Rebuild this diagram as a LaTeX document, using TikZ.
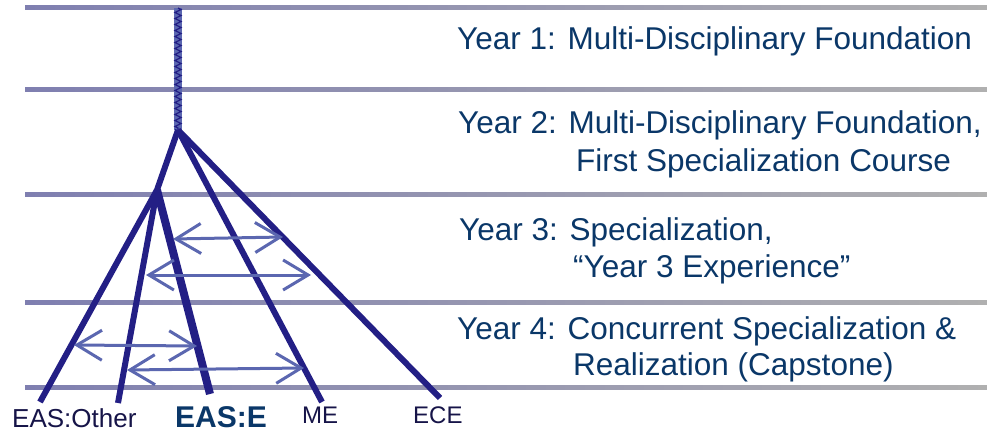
\documentclass[tikz,border=0pt]{standalone}
\usepackage{fontspec}
\setmainfont{Liberation Sans}
\usepackage{xcolor}
\usetikzlibrary{
    arrows.meta,
    calc,
    decorations.pathmorphing,
    positioning
}
\definecolor{treeblue}{HTML}{231F85}
\definecolor{arrowblue}{HTML}{5B67B0}
\definecolor{textnavy}{HTML}{0A3768}
\definecolor{labeldark}{HTML}{161448}
\definecolor{levelleft}{HTML}{7F7FB0}
\definecolor{levelright}{HTML}{B0B0B0}
\tikzset{
    yeartxt/.style={anchor=base west, inner sep=0pt, text=textnavy,
        font=\fontsize{31.5}{38}\selectfont},
    brlabel/.style={anchor=base west, inner sep=0pt, text=labeldark,
        font=\fontsize{26}{31}\selectfont},
    branch/.style={draw=treeblue, line width=6pt},
    xarrow/.style={draw=arrowblue, line width=3pt,
        {Straight Barb[length=25pt,width=30pt]}-{Straight Barb[length=25pt,width=30pt]}}
}

\begin{document}
\begin{tikzpicture}[x=1pt, y=-1pt]
                        \useasboundingbox (0, 0) rectangle (987, 433);
                        \foreach \y in {8, 90, 194, 302, 387}
                            \shade[left color=levelleft, right color=levelright]
                            (25, \y - 2) rectangle (987, \y + 2);
                        \coordinate (top) at (178, 8);
                        \coordinate (apex) at (178, 130);
                        \coordinate (split) at (157, 190);
                        \coordinate (other1) at (40, 402);
                        \coordinate (other2) at (118, 403);
                        \coordinate (ease) at (210, 394);
                        \coordinate (me) at (322, 402);
                        \coordinate (ece) at (440, 398);
                        \draw[draw=arrowblue, line width=8pt] (top) -- (apex);
                        \draw[draw=treeblue, line width=1.2pt,
                            decorate, decoration={zigzag, segment length=6pt, amplitude=3pt}]
                        (top) -- (apex);
                        \draw[branch] (apex) -- (split) -- (other1);
                        \draw[branch] (split) -- (other2);
                        \draw[branch, line width=8pt] (split) -- (ease);
                        \draw[branch] (apex) -- (me);
                        \draw[branch] (apex) -- (ece);
                        \coordinate (a1l) at (173, 239);
                        \coordinate (a1r) at (283, 237);
                        \coordinate (a2l) at (146, 275);
                        \coordinate (a2r) at (311, 275);
                        \coordinate (a3l) at (74, 345);
                        \coordinate (a3r) at (197, 346);
                        \coordinate (a4l) at (127, 370);
                        \coordinate (a4r) at (304, 368);
                        \draw[xarrow] (a1l) -- (a1r);
                        \draw[xarrow] (a2l) -- (a2r);
                        \draw[xarrow] (a3l) -- (a3r);
                        \draw[xarrow] (a4l) -- (a4r);
                        \node[brlabel] (lother) at (12, 427) {EAS:Other};
                        \node[brlabel, text=textnavy, font=\fontsize{30}{36}\selectfont\bfseries]
                            (lease) at (175, 427) {EAS:E};
                        \node[brlabel, font=\fontsize{24}{29}\selectfont] (lme) at (302, 423) {ME};
                        \node[brlabel, font=\fontsize{24}{29}\selectfont] (lece) at (413, 423) {ECE};
                        \node[yeartxt] (y1) at (457, 50) {Year 1: Multi-Disciplinary Foundation};
                        \node[yeartxt] (y2a) at (458, 133) {Year 2: Multi-Disciplinary Foundation,};
                        \node[yeartxt] (y2b) at (576, 171) {First Specialization Course};
                        \node[yeartxt] (y3a) at (459, 240) {Year 3: Specialization,};
                        \node[yeartxt] (y3b) at (573, 277) {``Year 3 Experience''};
                        \node[yeartxt] (y4a) at (457, 339) {Year 4: Concurrent Specialization \&};
                        \node[yeartxt] (y4b) at (573, 375) {Realization (Capstone)};
                    \end{tikzpicture}
\end{document}
